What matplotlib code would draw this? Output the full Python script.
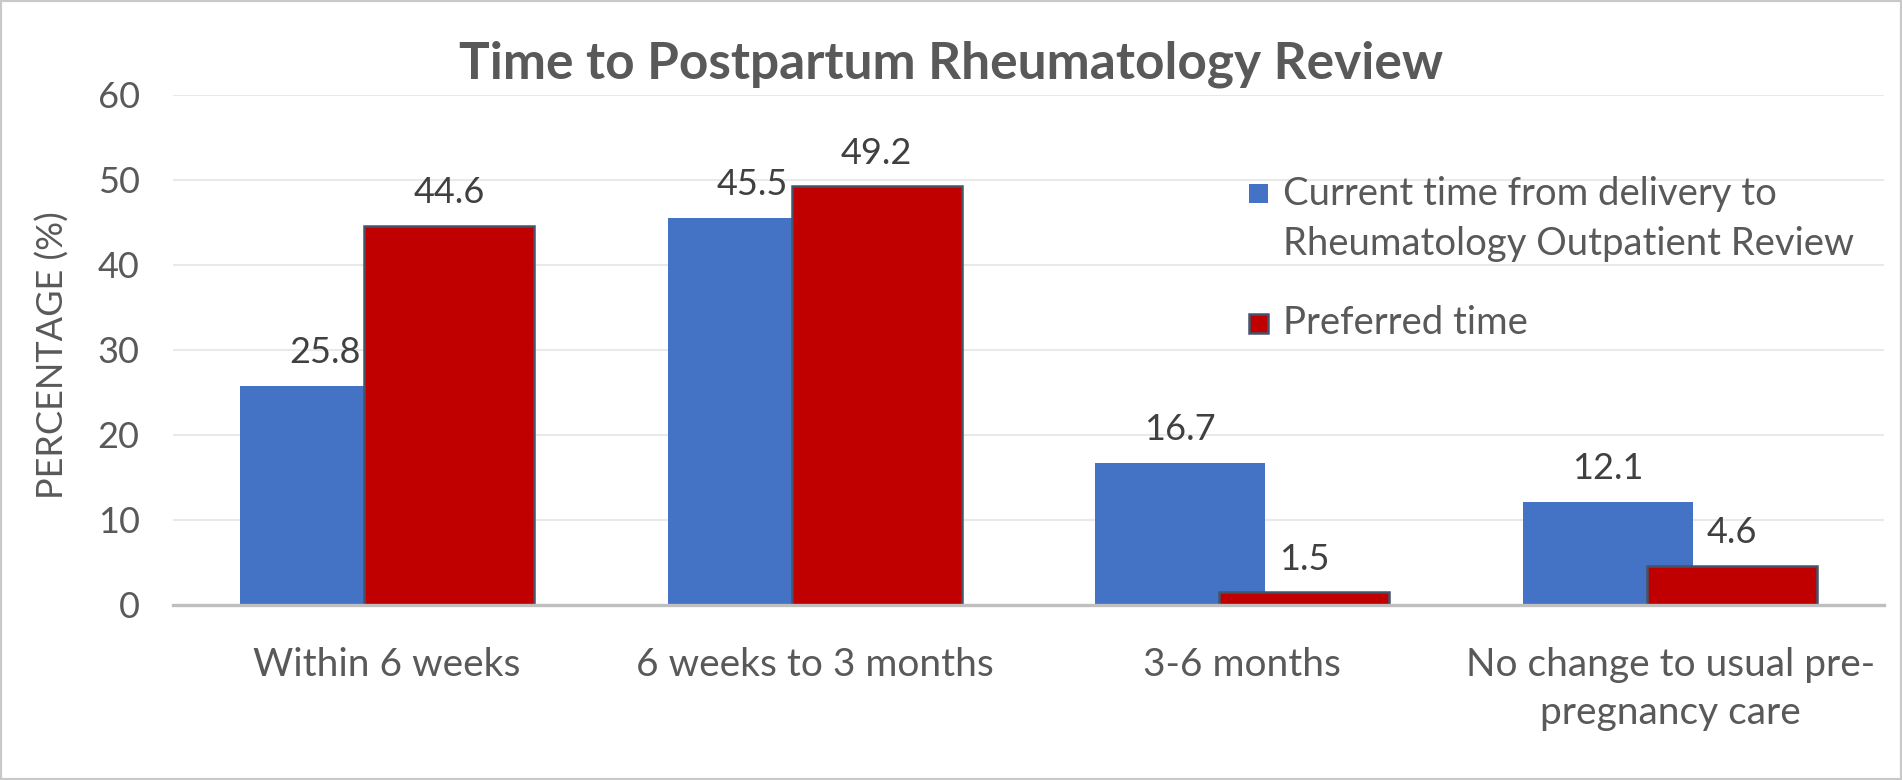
import matplotlib
matplotlib.use("Agg")
import matplotlib.pyplot as plt
from matplotlib.patches import Rectangle
import numpy as np

# Chart data
categories = ["Within 6 weeks", "6 weeks to 3 months", "3-6 months",
              "No change to usual pre-\npregnancy care"]
current_time = [25.8, 45.5, 16.7, 12.1]
preferred_time = [44.6, 49.2, 1.5, 4.6]
series_labels = ["Current time from delivery to\nRheumatology Outpatient Review",
                 "Preferred time"]
yticks = [0, 10, 20, 30, 40, 50, 60]

blue = "#4472C4"
red = "#C00000"
text_grey = "#595959"
label_dark = "#404040"

plt.rcParams['font.family'] = ['Lato', 'DejaVu Sans']

fig = plt.figure(figsize=(19.02, 7.8), dpi=100)
ax = fig.add_axes([0.091, 0.2244, 0.8995, 0.6543])

x = np.arange(len(categories))
width = 0.397
offset = 0.145

bars_cur = ax.bar(x - offset, current_time, width, color=blue, zorder=2)
bars_pref = ax.bar(x + offset, preferred_time, width, color=red,
                   edgecolor="#44546A", linewidth=1.8, zorder=3)

# value labels above each bar
for bars, vals in [(bars_cur, current_time), (bars_pref, preferred_time)]:
    for b, v in zip(bars, vals):
        ax.annotate(f"{v:.1f}", (b.get_x() + b.get_width() / 2, v),
                    xytext=(0, 12), textcoords="offset points",
                    ha="center", va="bottom", fontsize=26, color=label_dark)

ax.set_xlim(-0.5, len(categories) - 0.5)
ax.set_ylim(0, 60)
ax.set_yticks(yticks)
ax.set_yticklabels([str(t) for t in yticks], fontsize=26, color=text_grey)
ax.set_xticks(x)
ax.set_xticklabels(categories, fontsize=28, color=text_grey, linespacing=1.43)
ax.tick_params(axis="both", length=0)
ax.tick_params(axis="x", pad=30)
ax.tick_params(axis="y", pad=24)

ax.grid(axis="y", color="#E9E9E9", linewidth=1.5, zorder=0)
ax.set_axisbelow(True)
for s in ["top", "right", "left"]:
    ax.spines[s].set_visible(False)
ax.spines["bottom"].set_color("#BFBFBF")
ax.spines["bottom"].set_linewidth(2.4)
ax.spines["bottom"].set_zorder(4)

ax.set_ylabel("PERCENTAGE (%)", fontsize=26, color=text_grey, va="center")
ax.yaxis.set_label_coords(-0.0707, 0.49)

fig.text(0.5, 0.918, "Time to Postpartum Rheumatology Review", ha="center",
         va="center", fontsize=37, fontweight="bold", color=text_grey)

# legend drawn by hand so the swatch sits on the first text line
sw = 19 / 1902
sh = 19 / 780
fig.add_artist(Rectangle((1249 / 1902, 1 - 203 / 780), sw, sh,
                         transform=fig.transFigure, facecolor=blue, edgecolor="none"))
fig.add_artist(Rectangle((1249 / 1902, 1 - 333 / 780), sw, sh,
                         transform=fig.transFigure, facecolor=red,
                         edgecolor="#44546A", linewidth=1.8))
line1, line2 = series_labels[0].split("\n")
fig.text(1283 / 1902, 1 - 194 / 780, line1, ha="left", va="center",
         fontsize=27.5, color=text_grey)
fig.text(1283 / 1902, 1 - 244 / 780, line2, ha="left", va="center",
         fontsize=27.5, color=text_grey)
fig.text(1283 / 1902, 1 - 323 / 780, series_labels[1], ha="left", va="center",
         fontsize=27.5, color=text_grey)

# thin frame around the whole picture
fig.add_artist(Rectangle((0, 0), 1, 1, transform=fig.transFigure, fill=False,
                         edgecolor="#C8C8C8", linewidth=3))

fig.savefig("out.png", dpi=100)
